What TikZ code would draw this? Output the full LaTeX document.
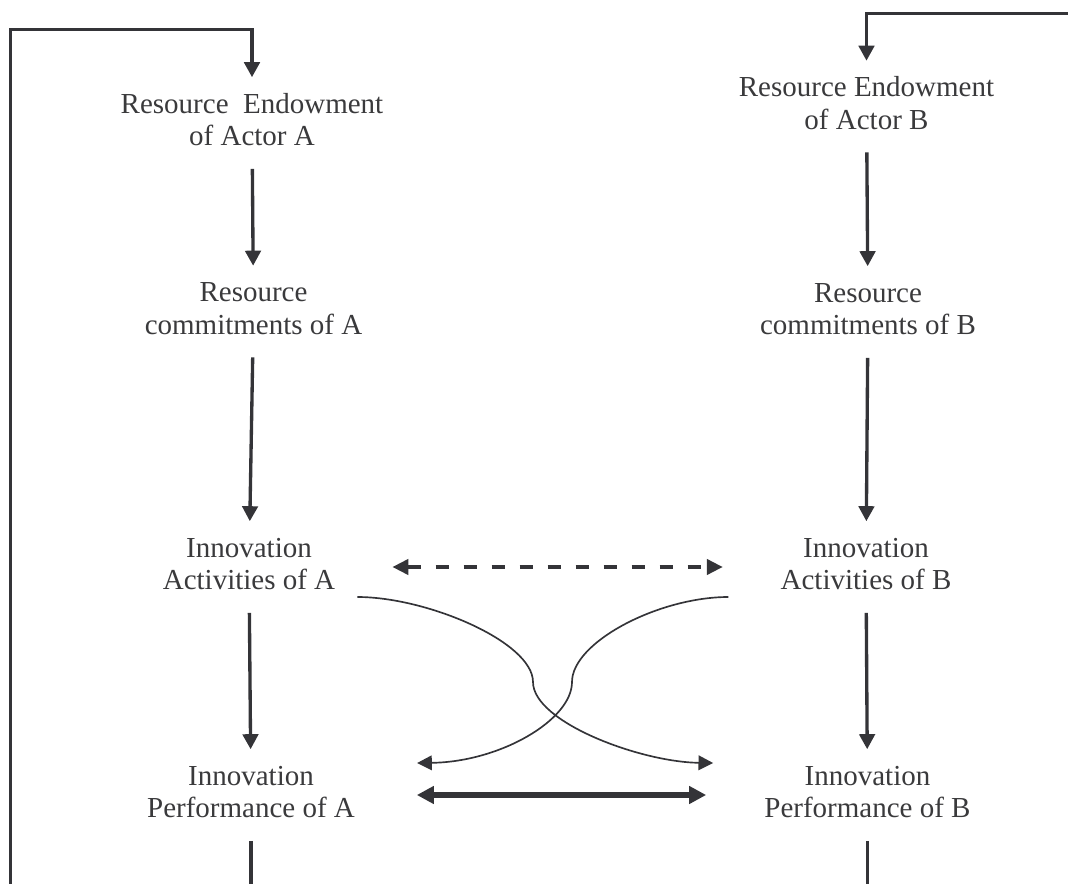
\documentclass[tikz,border=0pt]{standalone}
\usepackage{fontspec}
\setmainfont{Liberation Serif}
\usetikzlibrary{arrows.meta}
\definecolor{ink}{RGB}{52,52,56}
\definecolor{txt}{RGB}{58,58,60}
\begin{document}
\begin{tikzpicture}[x=0.75pt,y=-0.75pt,
  lbl/.style={font=\fontsize{21.75pt}{24.4pt}\selectfont, text=txt, align=center,
              inner xsep=0pt, inner ysep=9.75pt},
  flow/.style={draw=ink, line width=2.5pt, -{Triangle[length=11.25pt,width=11.6pt]}},
  plainline/.style={draw=ink, line width=2.5pt},
  spill/.style={draw=ink, line width=2.6pt, dash pattern=on 10pt off 11pt,
                {Triangle[length=12pt,width=11.5pt]}-{Triangle[length=12pt,width=11.5pt]}},
  mutual/.style={draw=ink, line width=4pt,
                 {Triangle[length=12.75pt,width=12.75pt]}-{Triangle[length=12.75pt,width=12.75pt]}},
  cross/.style={draw=ink, line width=1.25pt, -{Triangle[length=11pt,width=11pt]}}
]
\useasboundingbox (0,0) rectangle (1068,884);

% ---- actor A column ----
\node[lbl] (reA) at (252,123)   {\strut Resource\ \ Endowment\\\strut of Actor A};
\node[lbl] (rcA) at (253.5,311.5) {\strut Resource\\\strut commitments of A};
\node[lbl] (iaA) at (249,567)   {\strut Innovation\\\strut Activities of A};
\node[lbl] (ipA) at (251,795)   {\strut Innovation\\\strut Performance of A};

% ---- actor B column ----
\node[lbl] (reB) at (866.5,106.5) {\strut Resource Endowment\\\strut of Actor B};
\node[lbl] (rcB) at (868,312)   {\strut Resource\\\strut commitments of B};
\node[lbl] (iaB) at (866,567)   {\strut Innovation\\\strut Activities of B};
\node[lbl] (ipB) at (867.5,795) {\strut Innovation\\\strut Performance of B};

% free ends of the feedback loops
\coordinate (fbA) at (10.5,884);
\coordinate (fbB) at (1068,13.3);
\coordinate (outA) at (251,884);
\coordinate (outB) at (867.5,884);

% ---- vertical flows ----
\draw[flow] (reA) -- (rcA);
\draw[flow] (rcA) -- (iaA);
\draw[flow] (iaA) -- (ipA);
\draw[plainline] (ipA.south) -- (outA);

\draw[flow] (reB) -- (rcB);
\draw[flow] (rcB) -- (iaB);
\draw[flow] (iaB) -- (ipB);
\draw[plainline] (ipB.south) -- (outB);

% ---- feedback loops into the resource endowments ----
\draw[flow] (fbA) |- ([shift={(0,-48)}]reA.north) -- (reA.north);
\draw[flow] (fbB) -| (reB.north);

% ---- interactions between the actors ----
\draw[spill, shorten <=57pt*0.75, shorten >=57.6pt*0.75] (iaA) -- (iaB);
\draw[mutual, shorten <=61.7pt*0.75, shorten >=58pt*0.75] (ipA) -- (ipB);

\draw[cross] ([shift={(22,30)}]iaA.east)
  .. controls (427,597) and (533,642) .. (533,682)
  .. controls (533,722) and (640,762) .. ([shift={(-51,-32)}]ipB.west);
\draw[cross] ([shift={(-52,30)}]iaB.west)
  .. controls (659,597) and (572,642) .. (572,682)
  .. controls (572,720) and (500,762) .. ([shift={(62,-32)}]ipA.east);
\end{tikzpicture}
\end{document}
